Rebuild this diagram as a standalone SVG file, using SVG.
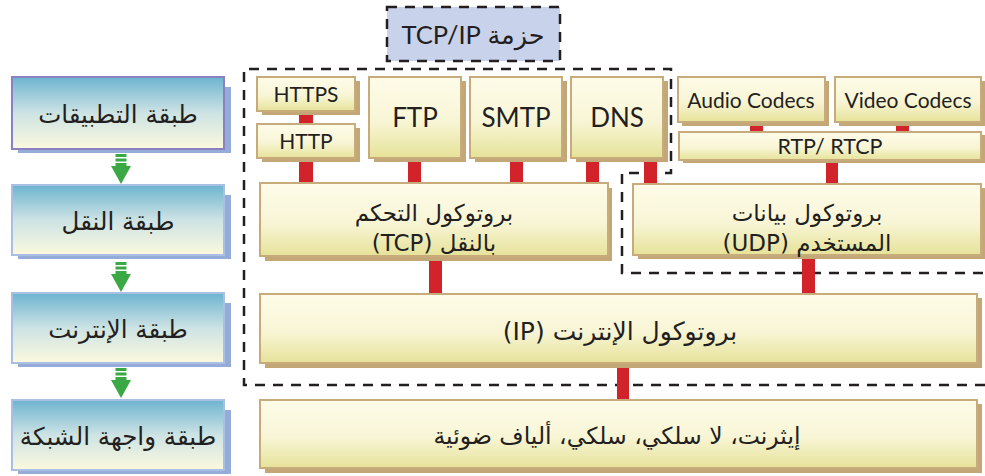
<svg xmlns="http://www.w3.org/2000/svg" width="985" height="476" viewBox="0 0 985 476">
<defs>
<linearGradient id="gBlue" x1="0" y1="0" x2="0" y2="1">
<stop offset="0" stop-color="#6db4d0"/>
<stop offset="0.5" stop-color="#cde3e4"/>
<stop offset="1" stop-color="#fcf9de"/>
</linearGradient>
<linearGradient id="gCream" x1="0" y1="0" x2="0" y2="1">
<stop offset="0" stop-color="#fefce9"/>
<stop offset="0.55" stop-color="#f8f5d6"/>
<stop offset="1" stop-color="#e6e299"/>
</linearGradient>
<g id="arrow">
<line x1="0" y1="0" x2="0" y2="13" stroke="#3aa845" stroke-width="11" stroke-dasharray="3 1.5"/>
<polygon points="-10,12 10,12 0,30" fill="#3aa845"/>
</g>
</defs>
<style>
.bshadow{fill:#94acd7}
.bbox{fill:url(#gBlue);stroke:#a9bfe3;stroke-width:2}
.bbox1{stroke:#8b80c2}
.ashadow{fill:#c4a776}
.abox{fill:url(#gCream);stroke:#c8ab7b;stroke-width:2}
.ar{font-family:"DejaVu Sans",sans-serif;fill:#231f20;text-anchor:middle}
.lat{font-family:Lato,"DejaVu Sans",sans-serif;fill:#231f20;text-anchor:middle}
.red{fill:#d2232a}
.dash{fill:none;stroke:#231f20;stroke-width:2.5;stroke-dasharray:10 8}
</style>
<rect width="985" height="476" fill="#ffffff"/>

<!-- left column -->
<g id="layer-app">
<rect class="bshadow" x="18" y="87" width="213" height="66"/>
<rect class="bbox bbox1" x="12" y="77" width="212" height="72"/>
<text class="ar" direction="rtl" x="118" y="123" font-size="24.5">طبقة التطبيقات</text>
</g>
<g id="layer-transport">
<rect class="bshadow" x="18" y="195" width="213" height="64"/>
<rect class="bbox" x="12" y="185" width="212" height="70"/>
<text class="ar" direction="rtl" x="118" y="230" font-size="24.5">طبقة النقل</text>
</g>
<g id="layer-internet">
<rect class="bshadow" x="18" y="303" width="213" height="64"/>
<rect class="bbox" x="12" y="293" width="212" height="70"/>
<text class="ar" direction="rtl" x="118" y="338" font-size="24.5">طبقة الإنترنت</text>
</g>
<g id="layer-network">
<rect class="bshadow" x="18" y="410" width="213" height="64"/>
<rect class="bbox" x="12" y="400" width="212" height="70"/>
<text class="ar" direction="rtl" x="118" y="445" font-size="24.5">طبقة واجهة الشبكة</text>
</g>
<g id="layer-arrows">
<use href="#arrow" x="121" y="154"/>
<use href="#arrow" x="121" y="262"/>
<use href="#arrow" x="121" y="368"/>
</g>

<!-- title -->
<g id="title">
<rect x="387" y="7" width="173" height="54" fill="#c8d2ea" stroke="#231f20" stroke-width="2.5" stroke-dasharray="10 8"/>
<text class="lat" direction="rtl" x="473" y="44" font-size="25.5">حزمة TCP/IP</text>
</g>

<!-- dashed region -->
<g id="regions">
<path class="dash" d="M985,385 L244,385 L244,69 L671,69 L671,173 L622,173 L622,273 L985,273"/>
</g>

<!-- connectors -->
<g id="connectors">
<rect class="red" x="299" y="111" width="14" height="13"/>
<rect class="red" x="299" y="162" width="14" height="21"/>
<rect class="red" x="408" y="162" width="13" height="21"/>
<rect class="red" x="510" y="162" width="13" height="21"/>
<rect class="red" x="586" y="162" width="13" height="21"/>
<rect class="red" x="644" y="162" width="13" height="22"/>
<rect class="red" x="750" y="122" width="13" height="10"/>
<rect class="red" x="896" y="122" width="13" height="10"/>
<rect class="red" x="826" y="160" width="12" height="24"/>
<rect class="red" x="429" y="259" width="13" height="35"/>
<rect class="red" x="802" y="258" width="13" height="36"/>
<rect class="red" x="617" y="366" width="12" height="34"/>
</g>

<!-- protocol boxes -->
<g id="https">
<rect class="ashadow" x="262" y="81" width="98" height="34"/>
<rect class="abox" x="257" y="77" width="98" height="34"/>
<text class="lat" x="306" y="102" font-size="21">HTTPS</text>
</g>
<g id="http">
<rect class="ashadow" x="262" y="128" width="98" height="34"/>
<rect class="abox" x="257" y="124" width="98" height="34"/>
<text class="lat" x="306" y="149" font-size="21">HTTP</text>
</g>
<g id="ftp">
<rect class="ashadow" x="374" y="81" width="92" height="81"/>
<rect class="abox" x="369" y="77" width="92" height="81"/>
<text class="lat" x="415" y="127" font-size="26">FTP</text>
</g>
<g id="smtp">
<rect class="ashadow" x="475" y="81" width="92" height="81"/>
<rect class="abox" x="470" y="77" width="92" height="81"/>
<text class="lat" x="516" y="127" font-size="26">SMTP</text>
</g>
<g id="dns">
<rect class="ashadow" x="576" y="81" width="92" height="81"/>
<rect class="abox" x="571" y="77" width="92" height="81"/>
<text class="lat" x="617" y="127" font-size="26">DNS</text>
</g>
<g id="audio">
<rect class="ashadow" x="682" y="81" width="147" height="45"/>
<rect class="abox" x="678" y="77" width="147" height="45"/>
<text class="lat" x="751" y="108" font-size="21">Audio Codecs</text>
</g>
<g id="video">
<rect class="ashadow" x="839" y="81" width="146" height="45"/>
<rect class="abox" x="835" y="77" width="146" height="45"/>
<text class="lat" x="908" y="108" font-size="21">Video Codecs</text>
</g>
<g id="rtp">
<rect class="ashadow" x="683" y="135" width="302" height="28"/>
<rect class="abox" x="679" y="132" width="302" height="28"/>
<text class="lat" x="830" y="154" font-size="21.5">RTP/ RTCP</text>
</g>
<g id="tcp">
<rect class="ashadow" x="265" y="188" width="347" height="73"/>
<rect class="abox" x="260" y="183" width="348" height="73"/>
<text class="ar" direction="rtl" x="434" y="221" font-size="23">بروتوكول التحكم</text>
<text class="ar" direction="rtl" x="434" y="251" font-size="23">بالنقل (TCP)</text>
</g>
<g id="udp">
<rect class="ashadow" x="638" y="188" width="347" height="71"/>
<rect class="abox" x="633" y="184" width="348" height="71"/>
<text class="ar" direction="rtl" x="807" y="221" font-size="23">بروتوكول بيانات</text>
<text class="ar" direction="rtl" x="807" y="251" font-size="23">المستخدم (UDP)</text>
</g>
<g id="ip">
<rect class="ashadow" x="265" y="298" width="717" height="70"/>
<rect class="abox" x="260" y="294" width="717" height="69"/>
<text class="ar" direction="rtl" x="620" y="340" font-size="25">بروتوكول الإنترنت (IP)</text>
</g>
<g id="physical">
<rect class="ashadow" x="265" y="404" width="717" height="69"/>
<rect class="abox" x="260" y="400" width="717" height="68"/>
<text class="ar" direction="rtl" x="617" y="444" font-size="23.5">إيثرنت، لا سلكي، سلكي، ألياف ضوئية</text>
</g>
</svg>
